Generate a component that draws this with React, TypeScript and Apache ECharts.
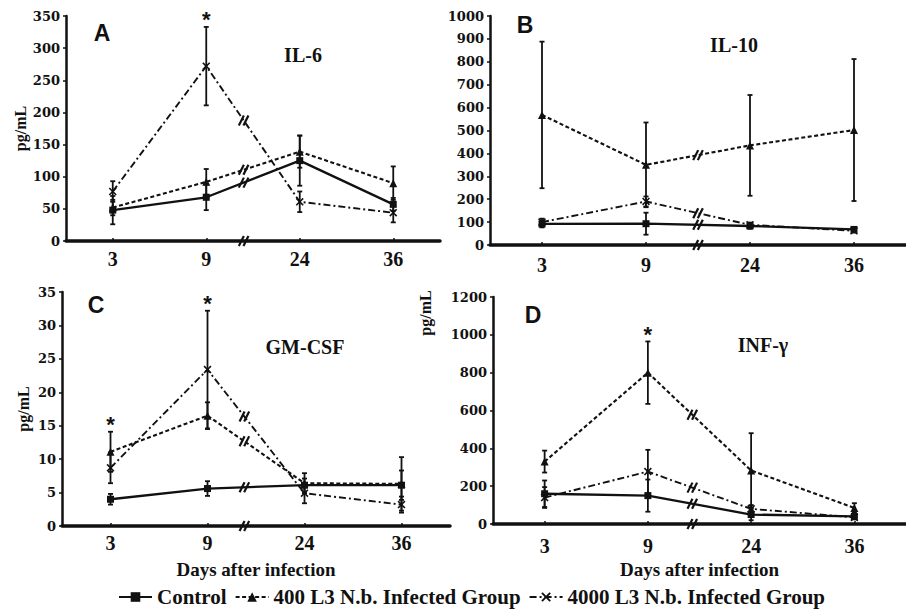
import React, { useEffect, useRef } from 'react';
import * as echarts from 'echarts';

// ---------- data ----------
const categories = ['3', '9', '24', '36'];
const groupNames = ['Control', '400 L3 N.b. Infected Group', '4000 L3 N.b. Infected Group'];

// A: IL-6 (pg/mL)
const il6Control = [48, 68, 125, 57];
const il6ControlErr = [22, 20, 39, 10];
const il6Low = [52, 92, 139, 90];
const il6LowErr = [12, 20, 25, 26];
const il6High = [77, 272, 61, 44];
const il6HighErr = [16, 61, 16, 15];

// B: IL-10 (pg/mL)
const il10Control = [92, 93, 83, 68];
const il10ControlErr = [15, 48, 12, 10];
const il10Low = [568, 350, 435, 502];
const il10LowErr = [320, 185, 220, 310];
const il10High = [100, 190, 88, 62];
const il10HighErr = [15, 22, 10, 8];

// C: GM-CSF (pg/mL)
const gmcsfControl = [4.0, 5.6, 6.1, 6.1];
const gmcsfControlErr = [0.8, 1.1, 1.0, 2.2];
const gmcsfLow = [11.1, 16.5, 6.4, 6.3];
const gmcsfLowErr = [3.0, 2.0, 1.5, 4.0];
const gmcsfHigh = [8.7, 23.4, 4.9, 3.2];
const gmcsfHighErr = [2.3, 8.8, 1.5, 1.2];

// D: INF-gamma (pg/mL)
const infgControl = [160, 150, 50, 40];
const infgControlErr = [70, 85, 30, 15];
const infgLow = [330, 800, 283, 85];
const infgLowErr = [58, 165, 197, 25];
const infgHigh = [140, 277, 80, 35];
const infgHighErr = [55, 115, 20, 10];

// y axis ranges
const yMaxes = [350, 1000, 35, 1200];
const yIntervals = [50, 100, 5, 200];

// significance stars (category labels)
const starsA = ['9'];
const starsB: string[] = [];
const starsC = ['3', '9'];
const starsD = ['9'];

// ---------- layout / style ----------
const panels = [
  {
    letter: 'A', title: 'IL-6',
    values: [il6Control, il6Low, il6High], errors: [il6ControlErr, il6LowErr, il6HighErr],
    stars: starsA, breakFrac: 0.4,
    grid: { left: 66, top: 16, width: 374, height: 225 },
    labelMargin: 8, yName: true, yNameGap: 33, xName: false,
    letterPos: [102, 33], titlePos: [303, 55],
  },
  {
    letter: 'B', title: 'IL-10',
    values: [il10Control, il10Low, il10High], errors: [il10ControlErr, il10LowErr, il10HighErr],
    stars: starsB, breakFrac: 0.5,
    grid: { left: 490, top: 16, width: 420, height: 229 },
    labelMargin: 10, yName: false, yNameGap: 0, xName: false,
    letterPos: [525, 25], titlePos: [734, 45],
  },
  {
    letter: 'C', title: 'GM-CSF',
    values: [gmcsfControl, gmcsfLow, gmcsfHigh], errors: [gmcsfControlErr, gmcsfLowErr, gmcsfHighErr],
    stars: starsC, breakFrac: 0.38,
    grid: { left: 62, top: 292, width: 388, height: 234 },
    labelMargin: 7, yName: true, yNameGap: 31, xName: true, xNameGap: 34,
    letterPos: [96, 305], titlePos: [305, 347],
  },
  {
    letter: 'D', title: 'INF-γ',
    values: [infgControl, infgLow, infgHigh], errors: [infgControlErr, infgLowErr, infgHighErr],
    stars: starsD, breakFrac: 0.43,
    grid: { left: 493, top: 297, width: 420, height: 227 },
    labelMargin: 12, yName: false, yNameGap: 0, xName: true, xNameGap: 36,
    letterPos: [533, 315], titlePos: [763, 345],
  },
];

const INK = '#111';
const lineStyles: any[] = [
  { type: 'solid', width: 2.3 },
  { type: [4, 2.5], width: 2.1 },
  { type: [7, 3, 2, 3], width: 1.9 },
];
const XMARK = 'path://M0,1.4L1.4,0L5,3.6L8.6,0L10,1.4L6.4,5L10,8.6L8.6,10L5,6.4L1.4,10L0,8.6L3.6,5Z';
const symbols = ['rect', 'triangle', XMARK];
const symbolSizes = [7, 8, 8];

const serif = '"Liberation Serif", "Times New Roman", serif';

function buildOption() {
  const grid: any[] = [];
  const xAxis: any[] = [];
  const yAxis: any[] = [];
  const series: any[] = [];
  const graphic: any[] = [];

  panels.forEach((p, k) => {
    grid.push({ ...p.grid, containLabel: false });
    xAxis.push({
      type: 'value', gridIndex: k, min: -0.5, max: categories.length - 0.5,
      splitLine: { show: false },
      axisLine: { show: true, onZero: false, lineStyle: { color: INK, width: 3.5 } },
      axisTick: { show: true, inside: true, length: 3, customValues: categories.map((_, i) => i), lineStyle: { color: INK, width: 1.5 } },
      axisLabel: {
        show: true, customValues: categories.map((_, i) => i),
        formatter: (v: number) => categories[Math.round(v)] ?? '',
        margin: p.labelMargin, color: INK, fontFamily: serif, fontWeight: 'bold', fontSize: 20,
      },
      name: p.xName ? 'Days after infection' : '',
      nameLocation: 'middle', nameGap: (p as any).xNameGap || 0,
      nameTextStyle: { color: INK, fontFamily: serif, fontWeight: 'bold', fontSize: 19 },
    });
    yAxis.push({
      type: 'value', gridIndex: k, min: 0, max: yMaxes[k], interval: yIntervals[k],
      splitLine: { show: false },
      axisLine: { show: true, onZero: false, lineStyle: { color: INK, width: 2.5 } },
      axisTick: { show: true, length: 3, lineStyle: { color: INK, width: 1.5 } },
      axisLabel: {
        margin: 6, color: INK, fontFamily: '"DejaVu Serif", serif', fontWeight: 'bold', fontSize: 13,
        formatter: (v: number) => String(v),
      },
      name: p.yName ? 'pg/mL' : '',
      nameLocation: 'middle', nameGap: p.yNameGap,
      nameTextStyle: { color: INK, fontFamily: serif, fontWeight: 'bold', fontSize: 16 },
    });

    // error bars
    p.values.forEach((vals, s) => {
      series.push({
        type: 'custom', xAxisIndex: k, yAxisIndex: k, z: 2, silent: true,
        data: vals.map((v, i) => [i, v, p.errors[s][i]]),
        renderItem: (_params: any, api: any) => {
          const x = api.value(0), v = api.value(1), e = api.value(2);
          const top = api.coord([x, v + e]);
          const bot = api.coord([x, Math.max(0, v - e)]);
          const st = { stroke: INK, lineWidth: 1.8 };
          return {
            type: 'group', children: [
              { type: 'line', shape: { x1: top[0], y1: top[1], x2: bot[0], y2: bot[1] }, style: st },
              { type: 'line', shape: { x1: top[0] - 2.5, y1: top[1], x2: top[0] + 2.5, y2: top[1] }, style: st },
              { type: 'line', shape: { x1: bot[0] - 2.5, y1: bot[1], x2: bot[0] + 2.5, y2: bot[1] }, style: st },
            ],
          };
        },
      });
    });

    // lines
    p.values.forEach((vals, s) => {
      series.push({
        type: 'line', name: groupNames[s], xAxisIndex: k, yAxisIndex: k, z: 3,
        data: vals.map((v, i) => [i, v]),
        symbol: symbols[s], symbolSize: symbolSizes[s], showSymbol: true,
        itemStyle: { color: INK },
        lineStyle: { color: INK, ...lineStyles[s] },
      });
    });

    // axis-break marks "//" on each line and on the x axis
    const bx = 1 + p.breakFrac;
    const breakData = p.values.map((vals) => [bx, vals[1] + p.breakFrac * (vals[2] - vals[1])]);
    breakData.push([bx, 0]);
    series.push({
      type: 'custom', xAxisIndex: k, yAxisIndex: k, z: 5, silent: true,
      data: breakData,
      renderItem: (_params: any, api: any) => {
        const c = api.coord([api.value(0), api.value(1)]);
        const mk = (o: number) => ({
          type: 'line',
          shape: { x1: c[0] + o - 2.5, y1: c[1] + 5, x2: c[0] + o + 2.5, y2: c[1] - 5 },
          style: { stroke: INK, lineWidth: 2.2 },
        });
        return { type: 'group', children: [mk(-2.3), mk(2.3)] };
      },
    });

    // stars
    if (p.stars.length) {
      const starData = p.stars.map((lab) => {
        const i = categories.indexOf(lab);
        const top = Math.max(...p.values.map((vals, s) => vals[i] + p.errors[s][i]));
        return [i, top];
      });
      series.push({
        type: 'custom', xAxisIndex: k, yAxisIndex: k, z: 5, silent: true,
        data: starData,
        renderItem: (_params: any, api: any) => {
          const c = api.coord([api.value(0), api.value(1)]);
          return {
            type: 'text', x: c[0], y: c[1] - 7,
            style: {
              text: '*', fill: INK, font: 'bold 22px "Liberation Sans", sans-serif',
              align: 'center', verticalAlign: 'middle', textAlign: 'center', textVerticalAlign: 'middle',
            },
          };
        },
      });
    }

    graphic.push({
      type: 'text', x: p.letterPos[0], y: p.letterPos[1],
      style: {
        text: p.letter, fill: INK, font: 'bold 23px "Liberation Sans", Arial, sans-serif',
        textAlign: 'center', textVerticalAlign: 'middle',
      },
    });
    graphic.push({
      type: 'text', x: p.titlePos[0], y: p.titlePos[1],
      style: {
        text: p.title, fill: INK, font: `bold 20px ${serif}`,
        textAlign: 'center', textVerticalAlign: 'middle',
      },
    });
  });

  // y-axis unit for panel D (sits above its axis, to the left)
  graphic.push({
    type: 'text', x: 425, y: 313, rotation: Math.PI / 2,
    style: {
      text: 'pg/mL', fill: INK, font: `bold 16px ${serif}`,
      textAlign: 'center', textVerticalAlign: 'middle',
    },
  });

  return {
    animation: false,
    backgroundColor: '#fff',
    textStyle: { fontFamily: serif },
    grid, xAxis, yAxis, series, graphic,
    legend: {
      data: groupNames, selectedMode: false, left: 118, top: 586, padding: 0,
      itemWidth: 33, itemHeight: 12, itemGap: 8,
      textStyle: { color: INK, fontFamily: serif, fontWeight: 'bold', fontSize: 21, lineHeight: 22 },
    },
  };
}

export default function App() {
  const ref = useRef<HTMLDivElement>(null);
  useEffect(() => {
    if (!ref.current) return;
    const chart = echarts.init(ref.current, undefined, { renderer: 'svg' });
    chart.setOption(buildOption() as any);
    return () => chart.dispose();
  }, []);
  return <div ref={ref} style={{ position: 'absolute', left: 0, top: 0, width: 906, height: 609 }} />;
}
